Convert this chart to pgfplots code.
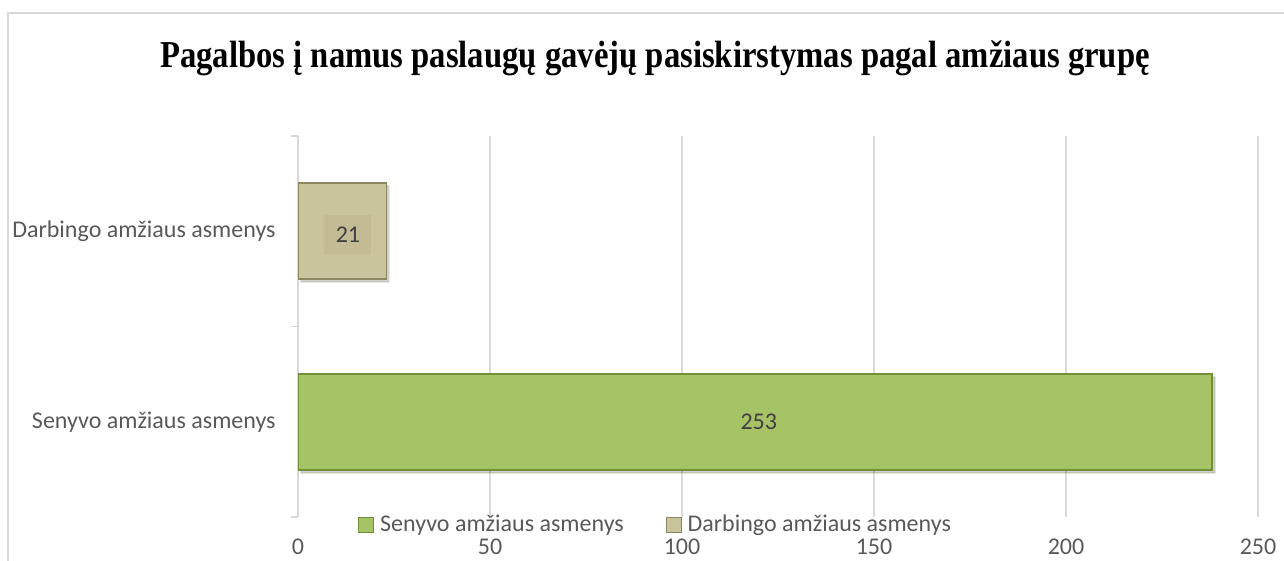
\documentclass[border=0pt]{standalone}
\usepackage{pgfplots}
\pgfplotsset{compat=1.18}
\usepackage{fontspec}
\setmainfont{Carlito}
\newfontfamily\titlefont[FakeStretch=0.86]{Liberation Serif}

\definecolor{gridgray}{HTML}{D9D9D9}
\definecolor{labelgray}{HTML}{595959}
\definecolor{valuegray}{HTML}{404040}
\definecolor{oldgreen}{HTML}{A6C466}
\definecolor{oldgreenedge}{HTML}{71903A}
\definecolor{tanfill}{HTML}{CAC49D}
\definecolor{tanedge}{HTML}{8C8661}
\definecolor{tanbox}{HTML}{C2BB94}

\begin{document}
\begin{tikzpicture}
\useasboundingbox (0,0) rectangle (642pt,280.5pt);
% frame of the chart area
\draw[gridgray, line width=1pt] (4pt,0) -- (4pt,274pt) -- (642pt,274pt);

\node[anchor=base, font=\titlefont\bfseries\fontsize{19}{21}\selectfont]
  at (327.5pt,246.5pt) {Pagalbos į namus paslaugų gavėjų pasiskirstymas pagal amžiaus grupę};

\begin{axis}[
    at={(149pt,22pt)}, anchor=south west,
    scale only axis, width=480pt, height=190.5pt,
    xmin=0, xmax=250, ymin=-0.5, ymax=1.5,
    enlargelimits=false,
    axis y line*=left, axis x line*=bottom,
    x axis line style={draw=none},
    y axis line style={gridgray, line width=0.75pt},
    xtick={0,50,...,250},
    xtick style={draw=none},
    xmajorgrids,
    major grid style={gridgray, line width=0.6pt},
    ytick={-0.5,0.5,1.5},
    yticklabels={,,},
    tick align=outside,
    major tick length=3.5pt,
    ytick style={gridgray, line width=0.75pt},
    extra y ticks={0,1},
    extra y tick labels={Senyvo amžiaus asmenys, Darbingo amžiaus asmenys},
    extra y tick style={major tick length=0pt},
    /pgf/number format/assume math mode=true,
    ticklabel style={font=\fontsize{12}{14}\selectfont, text=labelgray},
    xticklabel style={anchor=base, yshift=-15.5pt},
    yticklabel style={anchor=east, inner sep=0pt, xshift=-11pt},
    legend style={at={(0.0625,-0.021)}, anchor=west, draw=none, fill=none,
        legend columns=2, inner sep=0pt,
        font=\fontsize{12}{14}\selectfont, text=labelgray,
        nodes={inner sep=1pt},
        /tikz/every even column/.append style={column sep=20pt}},
    legend image code/.code={\draw[#1, line width=0.4pt] (0pt,-3.75pt) rectangle (7.5pt,3.75pt);
        \path (9.5pt,0pt);},
    bar shadow/.style={preaction={fill=black, opacity=0.18,
        transform canvas={xshift=1.5pt, yshift=-1.5pt}}},
]

\addplot[xbar, bar shift=0pt, bar width=48pt, fill=oldgreen, draw=oldgreenedge,
    line width=0.8pt, bar shadow, forget plot]
  coordinates {(238,0)};
\addplot[xbar, bar shift=0pt, bar width=48pt, fill=tanfill, draw=tanedge,
    line width=0.8pt, bar shadow, forget plot]
  coordinates {(23,1)};

\addlegendimage{fill=oldgreen, draw=oldgreenedge}
\addlegendentry{Senyvo amžiaus asmenys}
\addlegendimage{fill=tanfill, draw=tanedge}
\addlegendentry{Darbingo amžiaus asmenys}

% value labels
\node[font=\fontsize{12}{14}\selectfont, text=valuegray] at (axis cs:120,0) {253};
\node[fill=tanbox, minimum width=23.5pt, minimum height=19.5pt, inner sep=0pt,
      font=\fontsize{12}{14}\selectfont, text=valuegray] at (axis cs:13,0.984) {21};

\end{axis}
\end{tikzpicture}
\end{document}
